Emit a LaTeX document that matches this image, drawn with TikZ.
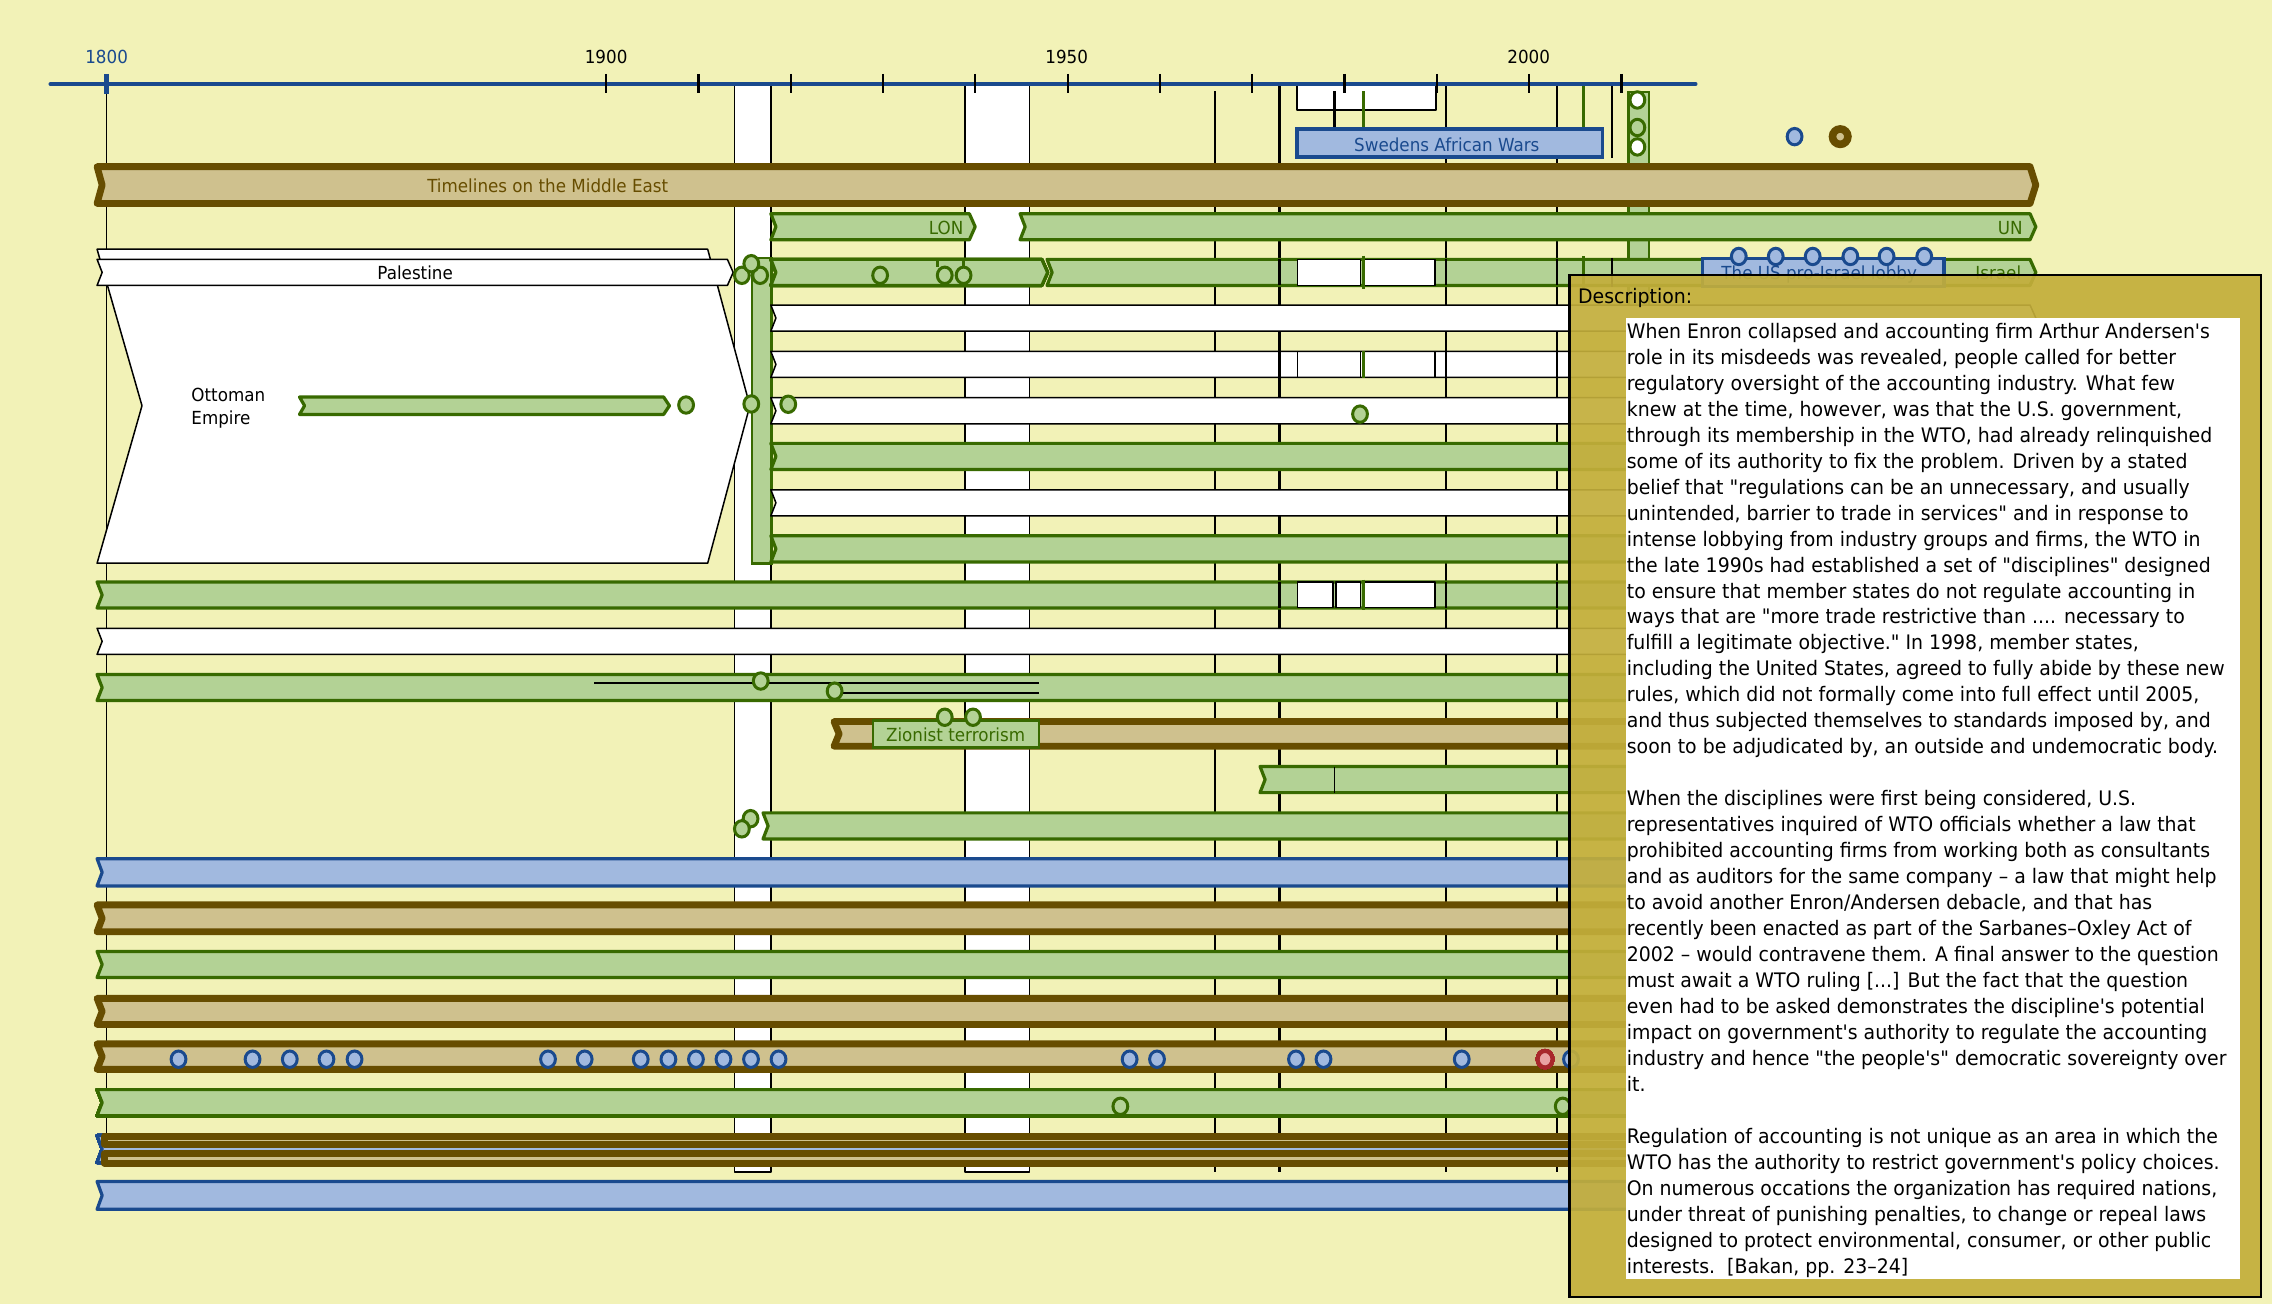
\documentclass[tikz,border=0pt]{standalone}
\usepackage{fontspec}
\setmainfont{DejaVu Sans}[FakeStretch=0.93]
\newfontfamily\descfont{DejaVu Sans}[FakeStretch=0.945]
\definecolor{bgc}{HTML}{F2F2B7}
\definecolor{gfill}{HTML}{B3D295}
\definecolor{gdark}{HTML}{386A00}
\definecolor{tfill}{HTML}{CFC18E}
\definecolor{tdark}{HTML}{674D00}
\definecolor{bfill}{HTML}{A1B9DF}
\definecolor{bdark}{HTML}{1A4A8E}
\definecolor{gold}{HTML}{C3AE3B}
\definecolor{redc}{HTML}{A8282C}
\definecolor{pinkc}{HTML}{E9A3A3}
\newcommand{\tlbar}[5]{\draw[#1] (#2,{#4-#5}) -- (#3,{#4-#5}) -- ({#3+4},#4) -- (#3,{#4+#5}) -- (#2,{#4+#5}) -- ({#2+3.5},#4) -- cycle;}
\newcommand{\tldot}[3]{\draw[#1] (#2,#3) ellipse [x radius=7.4pt, y radius=8.2pt];}
\newcommand{\dl}[2]{\node[desc] (dl#1) at (1122.6,{233.4+#1*17.93}) {#2};}
\tikzset{
 gbar/.style={fill=gfill,draw=gdark,line width=3.2pt,line join=round},
 tbar/.style={fill=tfill,draw=tdark,line width=6.8pt,line join=round},
 bbar/.style={fill=bfill,draw=bdark,line width=3.2pt,line join=round},
 wbar/.style={fill=white,draw=black,line width=1.5pt,line join=round},
 vline/.style={draw=black,line width=2.4pt},
 gline/.style={draw=gdark,line width=3.2pt},
 gdot/.style={draw=gdark,fill=gfill,line width=3pt},
 wdot/.style={draw=gdark,fill=white,line width=3pt},
 bdot/.style={draw=bdark,fill=bfill,line width=3pt},
 rdot/.style={draw=redc,fill=pinkc,line width=4pt},
 lab/.style={inner sep=0pt,font=\fontsize{18}{22}\selectfont},
 desc/.style={anchor=base west,inner sep=0pt,font=\descfont\fontsize{20}{26}\selectfont},
}
\begin{document}
\begin{tikzpicture}[x=1.449pt,y=-1.449pt]
\useasboundingbox (0,0) rectangle (1568,900);
\fill[bgc] (0,0) rectangle (1568,900);
% white bands
\draw[wbar] (507,59) rectangle (532,809);
\draw[wbar] (666,59) rectangle (710.5,809);
% period lines
\draw[black,line width=1.5pt] (73.6,64) -- (73.6,800);
\draw[vline] (838.6,63) -- (838.6,809);
\draw[vline] (883,59) -- (883,809);
\draw[vline] (998,59) -- (998,809);
\draw[vline] (1074.5,59) -- (1074.5,809);
\draw[vline] (1112.5,59) -- (1112.5,109);
\draw[gline] (1093,58) -- (1093,109);
\draw[wbar] (895,59) rectangle (991,76);
\draw[vline] (921,63) -- (921,89);
\draw[gline] (941,63) -- (941,89);
% axis
\draw[bdark,line width=4.5pt,line cap=round] (35,58) -- (1170,58);
\draw[bdark,line width=4.5pt] (73.6,51) -- (73.6,65);
\foreach \k in {0,...,11} \draw[black,line width=2.2pt] ({418.3+63.7*\k},51) -- ({418.3+63.7*\k},64);
\node[lab,anchor=base,text=bdark] (y1800) at (73.6,43.7) {1800};
\node[lab,anchor=base] (y1900) at (418.3,43.7) {1900};
\node[lab,anchor=base] (y1950) at (736.2,43.7) {1950};
\node[lab,anchor=base] (y2000) at (1055,43.7) {2000};
% top right items
\draw[fill=gfill,draw=gdark,line width=2.8pt] (1124,63.5) rectangle (1138,240);
\tldot{wdot}{1130}{69}
\tldot{gdot}{1130}{88}
\tldot{wdot}{1130}{101.4}
\tldot{bdot}{1238.5}{94.3}
\draw[draw=tdark,fill=tfill,line width=7.6pt] (1270,94.3) circle [radius=7.7pt];
\draw[fill=bfill,draw=bdark,line width=3.8pt] (895,89) rectangle (1106,108.5);
\node[lab,anchor=base,text=bdark] (swed) at (998.5,104.7) {Swedens African Wars};
% main title bar
\tlbar{tbar}{67}{1401}{127.7}{12.7}
\node[lab,anchor=base,text=tdark] (title) at (378,133) {Timelines on the Middle East};
% LON / UN
\tlbar{gbar}{532}{669}{156.5}{9}
\node[lab,anchor=base east,text=gdark] (lon) at (665,161.5) {LON};
\tlbar{gbar}{704}{1401}{156.5}{9}
\node[lab,anchor=base east,text=gdark] (un) at (1396,161.5) {UN};
% Ottoman empire
\draw[wbar] (67,172) -- (488.4,172) -- (517.5,280) -- (488.4,388.7) -- (67,388.7) -- (98,280) -- cycle;
\node[lab,anchor=base west] (ott1) at (132,277.2) {Ottoman};
\node[lab,anchor=base west] (ott2) at (132,293.3) {Empire};
\tlbar{gbar}{206.7}{458}{280}{6}
\tldot{gdot}{473.5}{279.5}
\tlbar{wbar}{67}{502}{188}{9}
\node[lab,anchor=base] (pal) at (286.5,193.2) {Palestine};
\draw[fill=gfill,draw=gdark,line width=2.8pt] (519,178) rectangle (532.5,388.7);
% rows right of the strip
\tlbar{gbar}{722.6}{1401}{188}{9}
\draw[wbar] (895.6,179) rectangle (939,197);
\draw[wbar] (941.5,179) rectangle (990.4,197);
\draw[gline] (941,176.5) -- (941,199.5);
\draw[vline] (883,179) -- (883,197);
\draw[vline] (998,179) -- (998,197);
\draw[vline] (1074.5,179) -- (1074.5,197);
\draw[gline] (1093,177) -- (1093,199);
\draw[vline] (1112.5,178) -- (1112.5,198);
\node[lab,anchor=base east,text=gdark] (isr) at (1395,193) {Israel};
\draw[fill=bfill,draw=bdark,line width=3.2pt] (1175,178.5) rectangle (1341.6,197.5);
\node[lab,anchor=base,text=bdark] (lobby) at (1255.5,193) {The US pro-Israel lobby};
\foreach \cx in {1200,1225.5,1251,1277,1302,1328} \tldot{bdot}{\cx}{177}
\tlbar{gbar}{532}{719}{188}{9}
\tldot{gdot}{607.4}{190}
\draw[gdark,line width=2.8pt] (647,184) -- (647,179) -- (665,179) -- (665,184);
\tldot{gdot}{652}{190}
\tldot{gdot}{665}{190}
\tldot{gdot}{512}{190}
\tldot{gdot}{524.6}{190}
\tldot{gdot}{518.5}{182}
\tlbar{wbar}{532}{1401}{219.5}{9}
\tlbar{wbar}{532}{1401}{251.5}{9}
\foreach \lx in {895.6,939,941.5,990.4} \draw[black,line width=1.5pt] (\lx,242.5) -- (\lx,260.5);
\draw[gline] (941,242) -- (941,261);
\draw[vline] (883,242.5) -- (883,260.5);
\draw[vline] (998,242.5) -- (998,260.5);
\draw[vline] (1074.5,242.5) -- (1074.5,260.5);
\tlbar{wbar}{532}{1401}{283.5}{9}
\tldot{gdot}{938.6}{285.8}
\tldot{gdot}{518.5}{278.8}
\tldot{gdot}{544}{279}
\tlbar{gbar}{532}{1401}{315}{9}
\tlbar{wbar}{532}{1401}{347}{9}
\tlbar{gbar}{532}{1401}{378.8}{9}
% full width rows
\tlbar{gbar}{67}{1401}{410.6}{9}
\draw[wbar] (895.6,401.8) rectangle (920,419.4);
\draw[wbar] (922,401.8) rectangle (939,419.4);
\draw[wbar] (941.5,401.8) rectangle (990.4,419.4);
\draw[gline] (941,400) -- (941,421);
\draw[vline] (883,401.8) -- (883,419.4);
\draw[vline] (998,401.8) -- (998,419.4);
\draw[vline] (1074.5,401.8) -- (1074.5,419.4);
\tlbar{wbar}{67}{1401}{442.6}{9}
\tlbar{gbar}{67}{1401}{474.5}{9}
\draw[black,line width=2.2pt] (410,471.5) -- (717,471.5);
\draw[black,line width=2.2pt] (581,478.5) -- (717,478.5);
\tldot{gdot}{525}{470}
\tldot{gdot}{576}{477}
\tlbar{tbar}{575.6}{1401}{506.5}{8.5}
\draw[fill=gfill,draw=gdark,line width=2.8pt] (602.5,497.5) rectangle (717,516);
\node[lab,anchor=base,text=gdark] (zion) at (659.5,511.8) {Zionist terrorism};
\tldot{gdot}{652}{495}
\tldot{gdot}{671.5}{495}
\tlbar{gbar}{869.6}{1401}{538}{9}
\draw[black,line width=1.8pt] (921,529) -- (921,547);
\tlbar{gbar}{526.6}{1401}{570}{9}
\tldot{gdot}{518}{565}
\tldot{gdot}{512}{572}
\tlbar{bbar}{67}{1401}{602}{9.4}
\tlbar{tbar}{67}{1401}{633.8}{9.3}
\tlbar{gbar}{67}{1401}{665.6}{9}
\tlbar{tbar}{67}{1401}{698}{9}
\tlbar{tbar}{67}{1401}{729.2}{8.8}
\foreach \cx in {123.2,174.3,200,225.3,244.7,378.2,403.5,442.2,461.3,480.3,499.3,518.3,537.3,779.6,798.5,894.4,913.4,1008.8,1084.2} \tldot{bdot}{\cx}{731}
\tldot{rdot}{1066.3}{731}
\tlbar{gbar}{67}{1401}{761}{9}
\tldot{gdot}{773.2}{763.5}
\tldot{gdot}{1078.5}{763.5}
\tlbar{bbar}{67}{1401}{793}{9.3}
\draw[tdark,fill=tfill,line width=6.8pt,line join=round] (72,784.3) rectangle (1401,789.7);
\draw[tdark,fill=tfill,line width=6.8pt,line join=round] (72,796.3) rectangle (1401,802.7);
\tlbar{bbar}{67}{1401}{825}{9.6}
% description box
\fill[gold,fill opacity=0.92] (1083,189.8) rectangle (1560.5,895);
\draw[black,line width=2.5pt] (1083,189.8) rectangle (1560.5,895);
\fill[white] (1122,219.7) rectangle (1546,883);
\node[desc,anchor=base west] (dhead) at (1089,209.8) {Description:};
\dl{0}{When Enron collapsed and accounting firm Arthur Andersen's}
\dl{1}{role in its misdeeds was revealed, people called for better}
\dl{2}{regulatory oversight of the accounting industry. What few}
\dl{3}{knew at the time, however, was that the U.S. government,}
\dl{4}{through its membership in the WTO, had already relinquished}
\dl{5}{some of its authority to fix the problem. Driven by a stated}
\dl{6}{belief that "regulations can be an unnecessary, and usually}
\dl{7}{unintended, barrier to trade in services" and in response to}
\dl{8}{intense lobbying from industry groups and firms, the WTO in}
\dl{9}{the late 1990s had established a set of "disciplines" designed}
\dl{10}{to ensure that member states do not regulate accounting in}
\dl{11}{ways that are "more trade restrictive than .... necessary to}
\dl{12}{fulfill a legitimate objective." In 1998, member states,}
\dl{13}{including the United States, agreed to fully abide by these new}
\dl{14}{rules, which did not formally come into full effect until 2005,}
\dl{15}{and thus subjected themselves to standards imposed by, and}
\dl{16}{soon to be adjudicated by, an outside and undemocratic body.}
\dl{18}{When the disciplines were first being considered, U.S.}
\dl{19}{representatives inquired of WTO officials whether a law that}
\dl{20}{prohibited accounting firms from working both as consultants}
\dl{21}{and as auditors for the same company – a law that might help}
\dl{22}{to avoid another Enron/Andersen debacle, and that has}
\dl{23}{recently been enacted as part of the Sarbanes–Oxley Act of}
\dl{24}{2002 – would contravene them. A final answer to the question}
\dl{25}{must await a WTO ruling [...] But the fact that the question}
\dl{26}{even had to be asked demonstrates the discipline's potential}
\dl{27}{impact on government's authority to regulate the accounting}
\dl{28}{industry and hence "the people's" democratic sovereignty over}
\dl{29}{it.}
\dl{31}{Regulation of accounting is not unique as an area in which the}
\dl{32}{WTO has the authority to restrict government's policy choices.}
\dl{33}{On numerous occations the organization has required nations,}
\dl{34}{under threat of punishing penalties, to change or repeal laws}
\dl{35}{designed to protect environmental, consumer, or other public}
\dl{36}{interests.\ \ [Bakan, pp. 23–24]}
\end{tikzpicture}
\end{document}
